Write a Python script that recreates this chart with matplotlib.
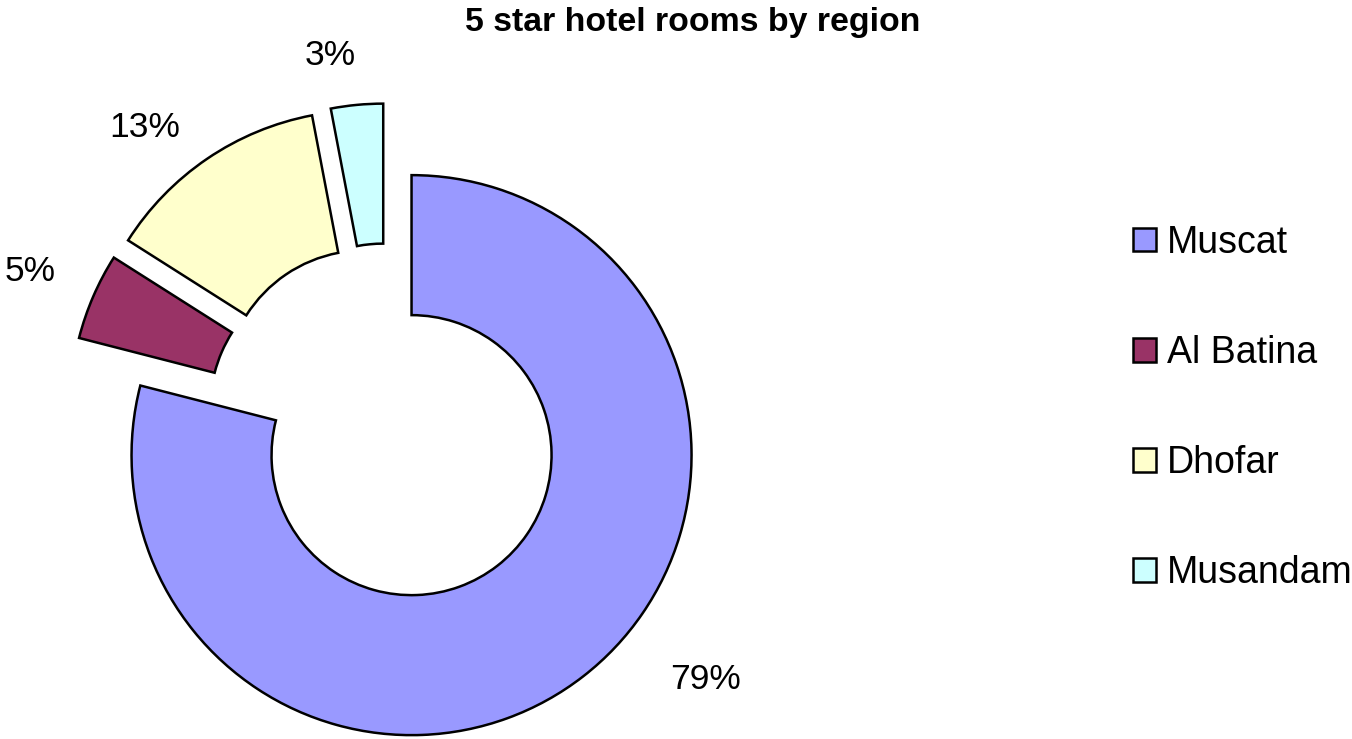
import matplotlib as mpl
mpl.use('Agg')
import matplotlib.pyplot as plt
import numpy as np
from matplotlib.patches import Patch

mpl.rcParams.update({'font.family': 'Liberation Sans'})

regions = ['Muscat', 'Al Batina', 'Dhofar', 'Musandam']
share = [79, 5, 13, 3]
colors = ['#9999FF', '#993366', '#FFFFCC', '#CCFFFF']

W, H = 1352, 739
CX, CY, R = 387, 423.5, 280  # pie centre and radius in pixels

# where each percentage label sits: (radius, angle in degrees) around the pie centre
label_pos = [(1.46, -38.8), (1.385, 157.0), (1.364, 129.3), (1.33, 98.8)]

fig = plt.figure(figsize=(W / 100, H / 100), dpi=100)
ax = fig.add_axes([0, 0, 1, 1])

wedges, texts, pcts = ax.pie(
    share, colors=colors, startangle=90, counterclock=False,
    explode=[0.143] * len(share), radius=1,
    autopct='%1.0f%%', pctdistance=1.23,
    wedgeprops=dict(width=0.5, edgecolor='black', linewidth=1.8, joinstyle='miter'),
    textprops=dict(fontsize=25.5, color='black'))
ax.set_xlim(-CX / R, (W - CX) / R)
ax.set_ylim(-(H - CY) / R, CY / R)
ax.set_aspect('auto')
ax.axis('off')

for t, (r, a) in zip(pcts, label_pos):
    a = np.deg2rad(a)
    t.set_position((r * np.cos(a), r * np.sin(a)))

fig.text(0.512, 1 - 23 / H, '5 star hotel rooms by region', ha='center', va='center',
         fontsize=24.4, fontweight='bold')

handles = [Patch(facecolor=c, edgecolor='black', linewidth=1.8) for c in colors]
fig.legend(handles, regions, loc='center left', bbox_to_anchor=(1133 / W, 1 - 408 / H),
           frameon=False, fontsize=27, handlelength=0.6, handleheight=0.6,
           handletextpad=0.3, labelspacing=1.98, borderpad=0, borderaxespad=0)

fig.savefig('out.png', dpi=100)
